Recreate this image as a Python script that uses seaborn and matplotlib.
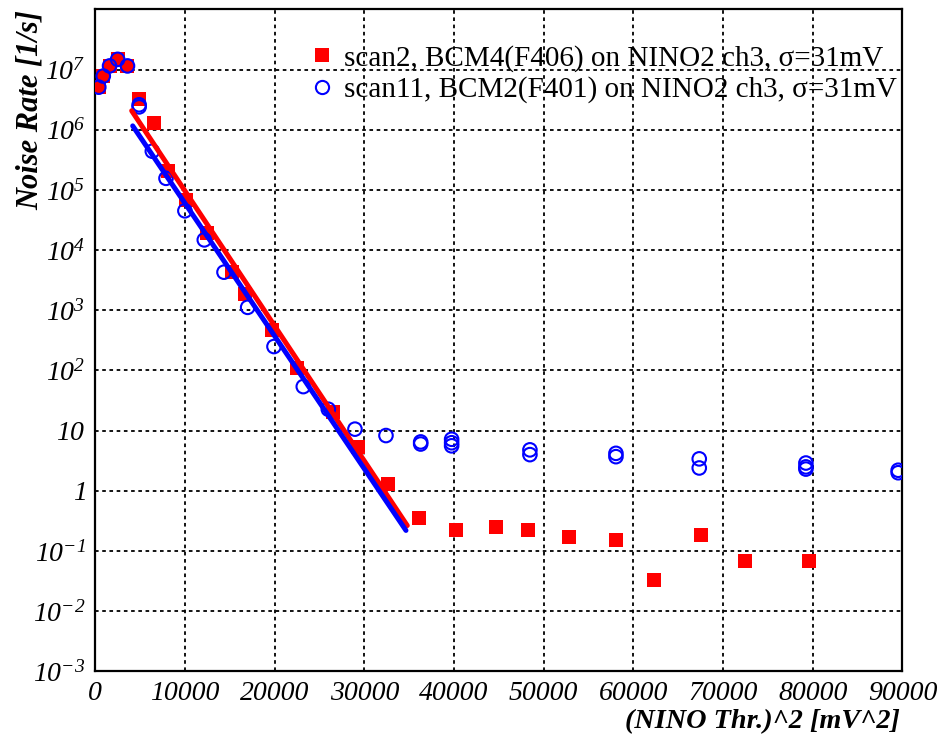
import numpy as np
import matplotlib
matplotlib.use("Agg")
import matplotlib.pyplot as plt
from matplotlib.ticker import FixedLocator, LogLocator, NullFormatter
from matplotlib.lines import Line2D
import seaborn as sns

# ---------------- data ----------------
red_x = [400, 900, 1600, 2500, 3600, 4916, 6522, 8150, 10122, 12500, 15217, 16700,
         19677, 22464, 26544, 29331, 32676, 36098, 40190, 44649, 48283, 52820,
         58060, 62330, 67503, 72441, 79610]
red_y = [5.1e6, 7.8e6, 1.15e7, 1.48e7, 1.15e7, 3.3e6, 1.3e6, 2.1e5, 6.8e4, 1.95e4,
         4.4e3, 1.9e3, 470, 109, 20.7, 5.4, 1.3, 0.36, 0.225, 0.255, 0.22, 0.17,
         0.153, 0.033, 0.186, 0.069, 0.069]

blue_x = [400, 900, 1600, 2500, 3600, 4900, 4900, 6370, 7893, 10000, 12163, 14360,
          17000, 19933, 23200, 25990, 28960, 32420, 36290, 36290, 39740, 39740,
          39740, 48470, 48470, 58060, 58060, 67350, 67350, 79240, 79240, 79240,
          89530, 89530]
blue_y = [5.1e6, 7.8e6, 1.15e7, 1.48e7, 1.15e7, 2.6e6, 2.4e6, 4.4e5, 1.56e5, 4.5e4,
          1.48e4, 4.3e3, 1.12e3, 250, 54, 22.7, 10.6, 8.3, 6.5, 6.0, 7.2, 6.3,
          5.6, 4.8, 4.0, 4.2, 3.7, 3.4, 2.4, 2.9, 2.5, 2.3, 2.2, 2.0]

red_fit_x = [4069, 34794]
red_fit_y = [2.07e6, 0.265]
blue_fit_x = [4181, 34649]
blue_fit_y = [1.16e6, 0.22]

x_ticks = [0, 10000, 20000, 30000, 40000, 50000, 60000, 70000, 80000, 90000]
x_tick_labels = ["0", "10000", "20000", "30000", "40000", "50000", "60000",
                 "70000", "80000", "90000"]
y_ticks = [1e-3, 1e-2, 1e-1, 1, 10, 1e2, 1e3, 1e4, 1e5, 1e6, 1e7]
y_tick_labels = [r"$10^{-3}$", r"$10^{-2}$", r"$10^{-1}$", r"$1$", r"$10$",
                 r"$10^{2}$", r"$10^{3}$", r"$10^{4}$", r"$10^{5}$", r"$10^{6}$",
                 r"$10^{7}$"]

label_red = "scan2, BCM4(F406) on NINO2 ch3, σ=31mV"
label_blue = "scan11, BCM2(F401) on NINO2 ch3, σ=31mV"

# ---------------- style ----------------
sns.set_style("white")
plt.rcParams["font.family"] = ["Liberation Serif", "DejaVu Serif"]
plt.rcParams["mathtext.fontset"] = "custom"
plt.rcParams["mathtext.rm"] = "Liberation Serif:italic"
plt.rcParams["mathtext.it"] = "Liberation Serif:italic"
plt.rcParams["mathtext.default"] = "it"
for k in ["text.color", "xtick.color", "ytick.color", "axes.labelcolor",
          "axes.edgecolor", "xtick.labelcolor", "ytick.labelcolor"]:
    plt.rcParams[k] = "black"

W, H = 945, 746
fig = plt.figure(figsize=(W / 100, H / 100), dpi=100)
L, R, T, B = 95.2, 902.4, 9.4, 671.4
ax = fig.add_axes([L / W, 1 - B / H, (R - L) / W, (B - T) / H])
ax.set_facecolor("white")

ax.set_yscale("log")
ax.set_xlim(0, 90000)
ax.set_ylim(1e-3, 1e8)

# grid
ax.grid(True, which="major", color="black", linestyle=(0, (2.0, 2.0)), linewidth=1.3)
ax.set_axisbelow(True)

# data
sns.scatterplot(x=red_x, y=red_y, marker="s", s=110, color="#ff0000",
                linewidth=0, ax=ax, zorder=3)
sns.scatterplot(x=blue_x, y=blue_y, marker="o", s=95, fc="none", ec="#0000ff",
                linewidth=1.5, ax=ax, zorder=4)
sns.lineplot(x=red_fit_x, y=red_fit_y, color="#ff0000", linewidth=3.6, ax=ax,
             zorder=5, estimator=None, sort=False)
sns.lineplot(x=blue_fit_x, y=blue_fit_y, color="#0000ff", linewidth=3.6, ax=ax,
             zorder=6, estimator=None, sort=False)

# ticks
ax.set_xticks(x_ticks)
ax.set_xticklabels(x_tick_labels)
ax.xaxis.set_minor_locator(FixedLocator(np.arange(0, 90001, 2000)))
ax.set_yticks(y_ticks)
ax.set_yticklabels(y_tick_labels)
ax.yaxis.set_minor_locator(LogLocator(base=10, subs=np.arange(2, 10), numticks=50))
ax.yaxis.set_minor_formatter(NullFormatter())

for lab in ax.get_xticklabels():
    lab.set_fontstyle("italic")
ax.tick_params(axis="x", which="major", direction="in", length=14, width=1.3,
               labelsize=20, pad=7, top=False, colors="black")
ax.tick_params(axis="x", which="minor", direction="in", length=7, width=1.3, top=False,
               colors="black")
ax.tick_params(axis="y", which="major", direction="in", length=11, width=1.3,
               labelsize=20, pad=7, right=False, colors="black")
ax.tick_params(axis="y", which="minor", direction="in", length=9, width=1.3, right=False,
               colors="black")

for sp in ax.spines.values():
    sp.set_visible(True)
    sp.set_color("black")
    sp.set_linewidth(1.6)

ax.set_xlabel("")
ax.set_ylabel("")

# axis titles (ROOT style, aligned to axis ends)
fig.text(30 / W, 1 - 10 / H, "Noise Rate [1/s]", rotation=90, ha="center", va="top",
         fontsize=22, fontweight="bold", fontstyle="italic", color="black")
fig.text(900 / W, 1 - 722 / H, "(NINO Thr.)^2 [mV^2]", ha="right", va="center",
         fontsize=20.3, fontweight="bold", fontstyle="italic", color="black")

# legend
handles = [
    Line2D([], [], marker="s", linestyle="none", markersize=10, markerfacecolor="#ff0000",
           markeredgewidth=0),
    Line2D([], [], marker="o", linestyle="none", markersize=9.5, markerfacecolor="none",
           markeredgecolor="#0000ff", markeredgewidth=1.5),
]
leg = ax.legend(handles, [label_red, label_blue], loc="upper left",
                bbox_to_anchor=(307.4 / W, 1 - 45 / H), bbox_transform=fig.transFigure,
                frameon=False, fontsize=21, handlelength=1.0, handletextpad=0.25,
                borderpad=0, borderaxespad=0, labelspacing=0.15)
for t in leg.get_texts():
    t.set_color("black")

fig.savefig("out.png", dpi=100)
